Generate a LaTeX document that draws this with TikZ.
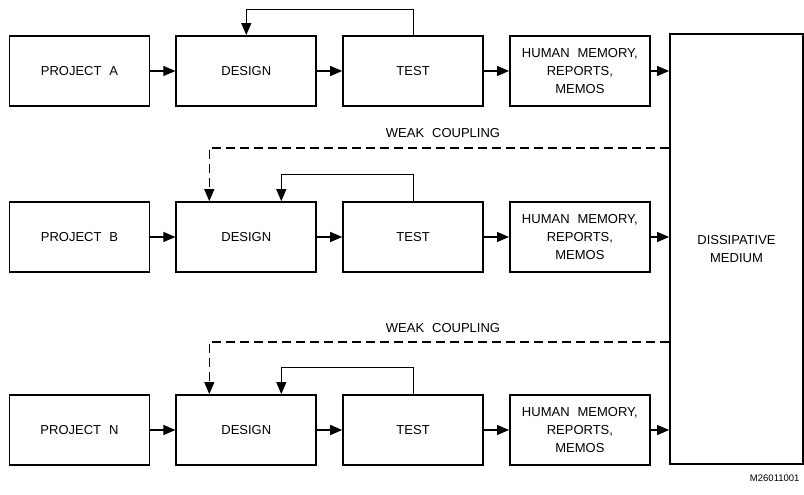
\documentclass[tikz,border=0pt]{standalone}
\usepackage{fontspec}
\setmainfont{Liberation Sans}[WordSpace=2.2]
\usetikzlibrary{arrows.meta,positioning}

\begin{document}
\begin{tikzpicture}[x=1pt, y=1pt, node distance=25pt, >={Triangle[length=12pt,width=10pt]},
  every node/.style={align=center, font=\fontsize{13}{18}\selectfont},
  blk/.style={draw, line width=1.8pt, minimum width=140pt, minimum height=70pt, inner sep=2pt},
  conn/.style={->, line width=1.1pt},
  weak/.style={->, line width=1.1pt, dash pattern=on 9pt off 5pt}]
\useasboundingbox (0,0) rectangle (804,495);
% project A
\node[blk] at (79.5,424) (projA) {PROJECT A};
\node[blk,right=of projA] (desA) {DESIGN};
\node[blk,right=of desA] (testA) {TEST};
\node[blk,right=of testA] (memA) {HUMAN MEMORY,\\REPORTS,\\MEMOS};
% project B
\node[blk] at (79.5,258) (projB) {PROJECT B};
\node[blk,right=of projB] (desB) {DESIGN};
\node[blk,right=of desB] (testB) {TEST};
\node[blk,right=of testB] (memB) {HUMAN MEMORY,\\REPORTS,\\MEMOS};
% project N
\node[blk] at (79.5,65) (projN) {PROJECT N};
\node[blk,right=of projN] (desN) {DESIGN};
\node[blk,right=of desN] (testN) {TEST};
\node[blk,right=of testN] (memN) {HUMAN MEMORY,\\REPORTS,\\MEMOS};
% medium
\node[blk,minimum width=133pt,minimum height=430pt] at (736.5,246) (medium) {DISSIPATIVE\\MEDIUM};
\node[anchor=east,font=\fontsize{9.5}{11}\selectfont] at (803,17) (code) {M26011001};
% chains
\draw[conn] (projA) -- (desA); \draw[conn] (desA) -- (testA); \draw[conn] (testA) -- (memA); \draw[conn] (memA) -- (memA -| medium.west);
\draw[conn] (projB) -- (desB); \draw[conn] (desB) -- (testB); \draw[conn] (testB) -- (memB); \draw[conn] (memB) -- (memB -| medium.west);
\draw[conn] (projN) -- (desN); \draw[conn] (desN) -- (testN); \draw[conn] (testN) -- (memN); \draw[conn] (memN) -- (memN -| medium.west);
% test feedback
\draw[conn] (testA.north) -- ++(0,26) -| (desA.north);
\draw[conn] (testB.north) -- ++(0,27) -| ([xshift=35pt]desB.north);
\draw[conn] (testN.north) -- ++(0,27) -| ([xshift=35pt]desN.north);
% weak coupling
\coordinate (wB) at (medium.west |- 0,347);
\coordinate (wN) at (medium.west |- 0,153);
\draw[weak] (wB) -| ([xshift=-37pt]desB.north);
\draw[weak] (wN) -| ([xshift=-37pt]desN.north);
\node at (443,362) (lblB) {WEAK COUPLING};
\node at (443,167) (lblN) {WEAK COUPLING};
\end{tikzpicture}
\end{document}
